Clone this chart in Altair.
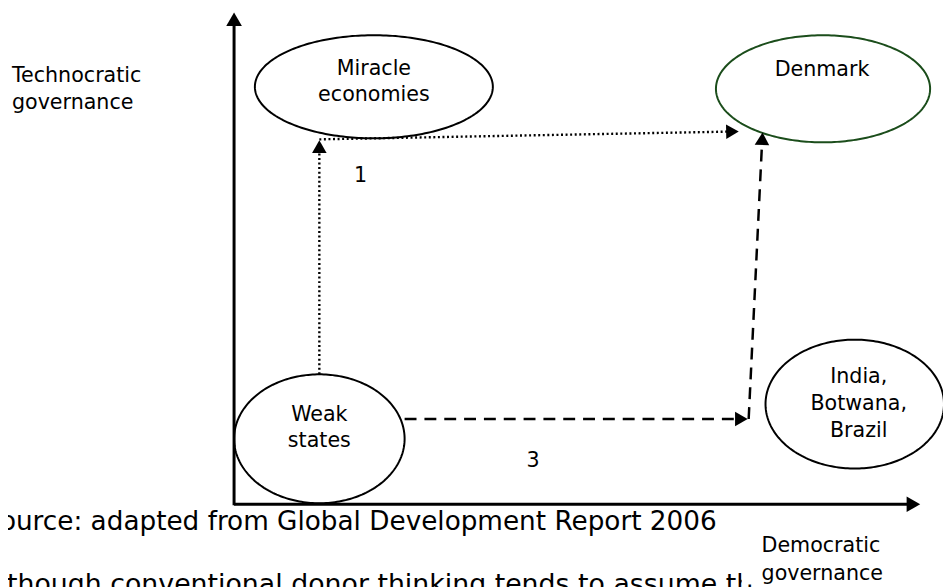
import altair as alt
import pandas as pd
import numpy as np

# ---------------- data (reference pixel coordinates, y measured from the top) ----------------
PAGE_W, PAGE_H, MARGIN = 951, 587, 8

# ellipse nodes
node_names = ["Miracle economies", "Denmark", "Weak states", "India Botwana Brazil"]
node_cx = [377, 830, 322, 862]
node_cy = [85, 87, 440, 405]
node_rx = [120, 108, 86, 90]
node_ry = [52, 54, 65, 65]
node_color = ["#000000", "#1b4d1b", "#000000", "#000000"]

# node label lines
label_text = ["Miracle", "economies", "Denmark", "Weak", "states", "India,", "Botwana,", "Brazil"]
label_x = [377, 377, 829, 322, 322, 866, 866, 866]
label_y = [67, 93, 68, 416, 442, 378, 405, 432]

# arrows between nodes (start -> tip)
arrow_style = ["dotted", "dotted", "dashed", "dashed"]
arrow_x0 = [322, 322, 408, 755]
arrow_y0 = [375, 138, 420, 420]
arrow_x1 = [322, 745, 754, 769]
arrow_y1 = [139, 130, 420, 131]

# axes (origin -> arrow tip)
axis_x0 = [236, 236]
axis_y0 = [507, 506]
axis_x1 = [236, 928]
axis_y1 = [10, 506]

# small texts of the diagram
diag_text = ["Technocratic", "governance", "1", "3"]
diag_x = [12, 12, 357, 531]
diag_y = [74, 101, 175, 462]

# page texts below the diagram
body_text = ["Source: adapted from Global Development Report 2006",
             "Although conventional donor thinking tends to assume th"]
body_x = [-17, -19]
body_y = [524, 588]
body_size = [26.5, 27]

# label box on the page (white background) and its text
box_x = [748]
box_x2 = [951]
box_y = [533]
box_y2 = [587]
box_text = ["Democratic", "governance"]
box_tx = [768, 768]
box_ty = [548, 576]

HEAD = 215          # arrowhead symbol size (area)
AXIS_HEAD = 250
FONT = "DejaVu Sans"
LABEL_SIZE = 20.8

# ---------------- build chart ----------------
W, H = PAGE_W - MARGIN, PAGE_H - MARGIN
xs = alt.Scale(domain=[MARGIN, PAGE_W], nice=False, zero=False)
ys = alt.Scale(domain=[MARGIN, PAGE_H], nice=False, zero=False, reverse=True)


def X(f):
    return alt.X(f, type="quantitative", scale=xs, axis=None)


def Y(f):
    return alt.Y(f, type="quantitative", scale=ys, axis=None)


# ellipse outlines
rows = []
t = np.linspace(0, 2 * np.pi, 241)
for n, cx, cy, rx, ry, c in zip(node_names, node_cx, node_cy, node_rx, node_ry, node_color):
    for i, a in enumerate(t):
        rows.append({"node": n, "i": i, "x": cx + rx * np.cos(a), "y": cy + ry * np.sin(a), "c": c})
ell = pd.DataFrame(rows)

ellipses = alt.Chart(ell).mark_line(strokeWidth=2, interpolate="linear").encode(
    x=X("x"), y=Y("y"), detail="node:N", order="i:Q",
    color=alt.Color("c:N", scale=None),
)


def arrow_tables(x0s, y0s, x1s, y1s, styles, size):
    shafts, heads = [], []
    h = 0.433 * np.sqrt(size)
    for x0, y0, x1, y1, s in zip(x0s, y0s, x1s, y1s, styles):
        dx, dy = x1 - x0, y1 - y0
        L = np.hypot(dx, dy)
        ux, uy = dx / L, dy / L
        shafts.append({"x": x0, "y": y0, "x2": x1 - ux * 1.6 * h, "y2": y1 - uy * 1.6 * h, "style": s})
        ang = float(np.degrees(np.arctan2(dx, -dy))) % 360
        heads.append({"x": x1 - ux * h, "y": y1 - uy * h, "angle": ang})
    return pd.DataFrame(shafts), pd.DataFrame(heads)


sh, hd = arrow_tables(arrow_x0, arrow_y0, arrow_x1, arrow_y1, arrow_style, HEAD)
ash, ahd = arrow_tables(axis_x0, axis_y0, axis_x1, axis_y1, ["solid", "solid"], AXIS_HEAD)

dotted = alt.Chart(sh[sh["style"] == "dotted"]).mark_rule(
    strokeWidth=2.4, strokeDash=[2, 2.6], color="black").encode(
    x=X("x"), y=Y("y"), x2="x2:Q", y2="y2:Q")
dashed = alt.Chart(sh[sh["style"] == "dashed"]).mark_rule(
    strokeWidth=2.5, strokeDash=[12, 8], color="black").encode(
    x=X("x"), y=Y("y"), x2="x2:Q", y2="y2:Q")
heads = alt.Chart(hd).mark_point(shape="triangle-up", filled=True, size=HEAD,
                                 color="black", opacity=1, strokeWidth=0).encode(
    x=X("x"), y=Y("y"), angle=alt.Angle("angle:Q", scale=None))

axes = alt.Chart(ash).mark_rule(strokeWidth=3, color="black").encode(
    x=X("x"), y=Y("y"), x2="x2:Q", y2="y2:Q")
axis_heads = alt.Chart(ahd).mark_point(shape="triangle-up", filled=True, size=AXIS_HEAD,
                                       color="black", opacity=1, strokeWidth=0).encode(
    x=X("x"), y=Y("y"), angle=alt.Angle("angle:Q", scale=None))

labels = alt.Chart(pd.DataFrame({"t": label_text, "x": label_x, "y": label_y})).mark_text(
    font=FONT, fontSize=LABEL_SIZE, align="center", baseline="middle", color="black").encode(
    x=X("x"), y=Y("y"), text="t:N")

diag = alt.Chart(pd.DataFrame({"t": diag_text, "x": diag_x, "y": diag_y})).mark_text(
    font=FONT, fontSize=LABEL_SIZE, align="left", baseline="middle", color="black").encode(
    x=X("x"), y=Y("y"), text="t:N")

body = alt.Chart(pd.DataFrame({"t": body_text, "x": body_x, "y": body_y, "s": body_size})).mark_text(
    font=FONT, align="left", baseline="middle", color="black").encode(
    x=X("x"), y=Y("y"), text="t:N", size=alt.Size("s:Q", scale=None))

box = alt.Chart(pd.DataFrame({"x": box_x, "x2": box_x2, "y": box_y, "y2": box_y2})).mark_rect(
    color="white", opacity=1).encode(x=X("x"), x2="x2:Q", y=Y("y"), y2="y2:Q")

box_labels = alt.Chart(pd.DataFrame({"t": box_text, "x": box_tx, "y": box_ty})).mark_text(
    font=FONT, fontSize=LABEL_SIZE, align="left", baseline="middle", color="black").encode(
    x=X("x"), y=Y("y"), text="t:N")

chart = alt.layer(
    axes, axis_heads, ellipses, dotted, dashed, heads, labels, diag, body, box, box_labels
).properties(
    width=W, height=H, padding=0, autosize=alt.AutoSizeParams(type="none"),
    background="white",
).configure_view(stroke=None)

chart.save("out.html", embed_options={"renderer": "svg", "actions": False})
